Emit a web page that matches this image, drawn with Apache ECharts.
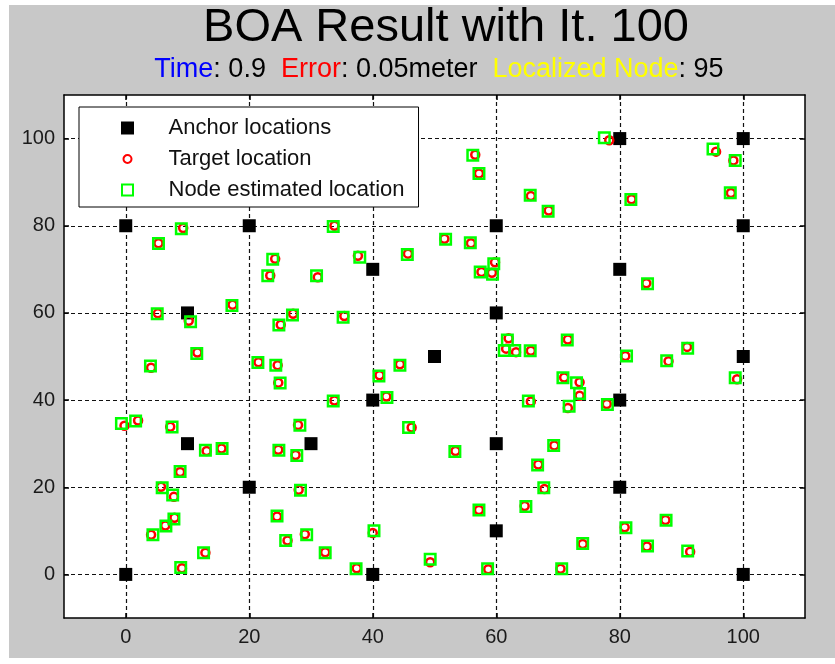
<!DOCTYPE html>
<html>
<head>
<meta charset="utf-8">
<script src="https://cdn.jsdelivr.net/npm/echarts@6/dist/echarts.min.js"></script>
<style>
  html, body { margin: 0; padding: 0; background: #ffffff; }
  #chart { width: 835px; height: 664px; }
</style>
</head>
<body>
<div id="chart"></div>
<script>
// Tick positions on both axes
const xTicks = [0, 20, 40, 60, 80, 100];
const yTicks = [0, 20, 40, 60, 80, 100];

// Anchor (beacon) positions
const anchorX = [0, 0, 10, 10, 20, 20, 30, 40, 40, 40, 50, 60, 60, 60, 60, 80, 80, 80, 80, 100, 100, 100, 100];
const anchorY = [0, 80, 60, 30, 80, 20, 30, 70, 40, 0, 50, 80, 60, 30, 10, 100, 70, 40, 20, 100, 80, 50, 0];

// True target positions
const targetX = [78.3, 95.6, 98.4, 98.0, 81.9, 68.5, 65.6, 56.6, 57.2, 33.8,
  51.6, 55.9, 37.6, 45.7, 59.8, 57.6, 59.3, 9.3, 5.3, 24.2,
  23.4, 31.1, 17.3, 5.2, 10.2, 27.1, 25.1, 11.6, 4.1, 21.5,
  24.6, 24.7, -0.2, 2.0, 7.2, 27.9, 35.4, 62.0, 61.6, 63.2,
  65.6, 44.4, 41.1, 42.2, 33.8, 65.6, 46.3, 71.0, 84.3, 71.6,
  90.9, 80.9, 87.9, 99.0, 73.5, 73.5, 71.6, 77.9, 13.1, 15.5,
  24.7, 27.5, 8.8, 5.7, 7.8, 28.0, 24.5, 7.9, 6.4, 4.1,
  26.2, 29.0, 12.9, 9.1, 53.4, 69.4, 66.8, 67.8, 57.2, 64.6,
  40.0, 32.3, 49.3, 37.4, 58.7, 87.4, 80.8, 74.0, 84.4, 91.4, 70.4];
const targetY = [99.6, 97.0, 95.0, 87.5, 86.1, 83.5, 86.8, 96.3, 92.0, 80.0,
  77.0, 76.0, 73.1, 73.6, 71.6, 69.4, 69.2, 79.5, 76.0, 72.4,
  68.6, 68.2, 61.9, 59.9, 58.2, 59.8, 57.3, 50.9, 47.4, 48.7,
  48.0, 44.0, 34.1, 35.3, 33.9, 34.3, 59.3, 54.2, 51.8, 51.0,
  51.3, 48.2, 45.7, 40.8, 39.9, 39.7, 33.7, 45.2, 66.8, 53.9,
  52.2, 50.1, 48.9, 44.8, 44.1, 41.0, 38.2, 39.1, 28.3, 28.9,
  28.6, 27.4, 23.5, 20.1, 17.8, 19.4, 13.3, 13.0, 11.2, 9.1,
  7.8, 9.2, 5.0, 1.4, 28.3, 29.6, 25.2, 19.6, 14.8, 15.7,
  9.5, 5.1, 2.8, 1.4, 1.2, 12.5, 10.8, 7.0, 6.4, 5.2, 1.3];

// Positions estimated by the optimiser
const estX = [77.5, 95.1, 98.7, 97.9, 81.8, 68.4, 65.5, 56.2, 57.2, 33.6,
  51.8, 55.8, 37.9, 45.6, 59.6, 57.4, 59.4, 9.0, 5.3, 23.8,
  23.0, 30.9, 17.2, 5.1, 10.5, 27.0, 24.8, 11.5, 4.0, 21.4,
  24.3, 25.0, -0.7, 1.6, 7.5, 28.2, 35.2, 61.8, 61.3, 63.0,
  65.5, 44.4, 41.0, 42.3, 33.6, 65.2, 45.8, 70.8, 84.5, 71.5,
  91.0, 81.1, 87.6, 98.7, 73.0, 73.5, 71.8, 78.0, 12.9, 15.6,
  24.8, 27.7, 8.8, 5.9, 7.6, 28.3, 24.5, 7.8, 6.5, 4.4,
  25.9, 29.3, 12.6, 8.9, 53.3, 69.3, 66.7, 67.7, 57.2, 64.8,
  40.2, 32.3, 49.3, 37.3, 58.6, 87.5, 81.0, 74.0, 84.5, 91.0, 70.6];
const estY = [100.2, 97.6, 95.0, 87.6, 86.0, 83.3, 87.0, 96.2, 92.0, 79.8,
  76.9, 76.1, 72.8, 73.4, 71.3, 69.4, 68.9, 79.3, 75.9, 72.3,
  68.5, 68.5, 61.7, 59.8, 58.0, 59.5, 57.2, 50.7, 47.8, 48.6,
  48.0, 43.9, 34.6, 35.2, 33.8, 34.2, 59.0, 53.8, 51.4, 51.4,
  51.3, 48.0, 45.5, 40.6, 39.8, 39.8, 33.7, 45.1, 66.7, 53.8,
  51.9, 50.1, 49.0, 45.1, 44.0, 41.5, 38.6, 39.0, 28.5, 28.9,
  28.5, 27.3, 23.6, 19.9, 18.2, 19.3, 13.4, 12.7, 11.1, 9.1,
  7.8, 9.1, 5.0, 1.6, 28.2, 29.6, 25.1, 19.9, 14.8, 15.6,
  10.0, 5.0, 3.5, 1.3, 1.3, 12.4, 10.7, 7.1, 6.5, 5.4, 1.3];

const zip = (xs, ys) => xs.map((x, i) => [x, ys[i]]);

const FONT = '"Liberation Sans", Arial, sans-serif';
const chart = echarts.init(document.getElementById('chart'));

const tickStyle = { color: '#000', width: 1.5 };
const lineStyle = { color: '#000', width: 1.5 };
const gridDash = { color: '#111', width: 1.2, type: [4, 3] };

chart.setOption({
  backgroundColor: '#ffffff',
  animation: false,
  grid: {
    left: 64, right: 30, top: 95, bottom: 46,
    show: true, backgroundColor: '#ffffff', borderWidth: 0
  },
  graphic: [
    {
      type: 'rect', z: -10, silent: true,
      shape: { x: 9, y: 5, width: 826, height: 653 },
      style: { fill: '#c8c8c8' }
    },
    {
      type: 'text', x: 446, y: 28, z: 10,
      style: {
        text: 'BOA Result with It. 100',
        font: '47px ' + FONT, fill: '#000',
        align: 'center', verticalAlign: 'middle'
      }
    },
    {
      type: 'text', x: 439, y: 70, z: 10,
      style: {
        text: '{b|Time}{k|: 0.9  }{r|Error}{k|: 0.05meter  }{y|Localized Node}{k|: 95}',
        align: 'center', verticalAlign: 'middle',
        font: '27px ' + FONT,
        rich: {
          b: { fill: '#0000ff', font: '27px ' + FONT },
          r: { fill: '#ff0000', font: '27px ' + FONT },
          y: { fill: '#ffff00', font: '27px ' + FONT },
          k: { fill: '#000000', font: '27px ' + FONT }
        }
      }
    }
  ],
  legend: {
    orient: 'vertical',
    left: 79, top: 107,
    padding: [10, 14, 6, 41],
    itemGap: 9,
    itemWidth: 36, itemHeight: 13,
    backgroundColor: '#ffffff',
    borderColor: '#000000', borderWidth: 1,
    textStyle: { fontFamily: FONT, fontSize: 22, color: '#111111', padding: [0, 0, 0, 18] },
    data: [
      { name: 'Anchor locations', icon: 'path://M0,0M26,26M0,0L26,0L26,26L0,26Z' },
      { name: 'Target location', icon: 'path://M0,0M26,26M21,13A8,8,0,1,1,20.99,12.6Z' },
      { name: 'Node estimated location', icon: 'path://M0,0M26,26M2,2L24,2L24,24L2,24Z' }
    ]
  },
  xAxis: [
    {
      type: 'value', position: 'bottom', min: -10, max: 110,
      axisLine: { show: true, onZero: false, lineStyle: lineStyle },
      axisTick: { show: true, inside: true, length: 5, customValues: xTicks, lineStyle: tickStyle },
      axisLabel: { customValues: xTicks, margin: 9, fontFamily: FONT, fontSize: 20, color: '#1a1a1a' },
      splitLine: { show: true, lineStyle: gridDash }
    },
    {
      type: 'value', position: 'top', min: -10, max: 110,
      axisLine: { show: true, onZero: false, lineStyle: lineStyle },
      axisTick: { show: true, inside: true, length: 5, customValues: xTicks, lineStyle: tickStyle },
      axisLabel: { show: false },
      splitLine: { show: false }
    }
  ],
  yAxis: [
    {
      type: 'value', position: 'left', min: -10, max: 110,
      axisLine: { show: true, onZero: false, lineStyle: lineStyle },
      axisTick: { show: true, inside: true, length: 5, customValues: yTicks, lineStyle: tickStyle },
      axisLabel: { customValues: yTicks, margin: 9, fontFamily: FONT, fontSize: 20, color: '#1a1a1a' },
      splitLine: { show: true, lineStyle: gridDash }
    },
    {
      type: 'value', position: 'right', min: -10, max: 110,
      axisLine: { show: true, onZero: false, lineStyle: lineStyle },
      axisTick: { show: true, inside: true, length: 5, customValues: yTicks, lineStyle: tickStyle },
      axisLabel: { show: false },
      splitLine: { show: false }
    }
  ],
  series: [
    {
      name: 'Anchor locations', type: 'scatter', z: 3,
      symbol: 'rect', symbolSize: 13,
      itemStyle: { color: '#000000', opacity: 1 },
      data: zip(anchorX, anchorY)
    },
    {
      name: 'Target location', type: 'scatter', z: 4,
      symbol: 'circle', symbolSize: 8,
      itemStyle: { color: 'rgba(255,255,255,0)', borderColor: '#ff0000', borderWidth: 2.5, opacity: 1 },
      data: zip(targetX, targetY)
    },
    {
      name: 'Node estimated location', type: 'scatter', z: 5,
      symbol: 'rect', symbolSize: 10.5,
      itemStyle: { color: 'rgba(255,255,255,0)', borderColor: '#00ff00', borderWidth: 2.5, opacity: 1 },
      data: zip(estX, estY)
    }
  ]
});
</script>
</body>
</html>
